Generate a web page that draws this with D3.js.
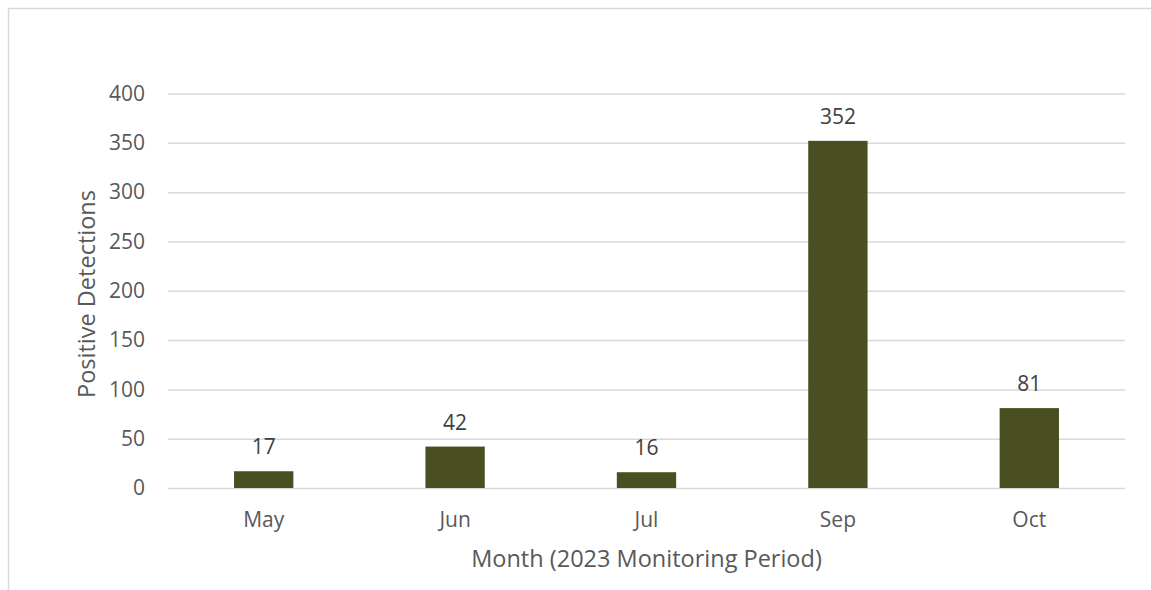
<!DOCTYPE html>
<html>
<head>
<meta charset="utf-8">
<script src="https://cdn.jsdelivr.net/npm/d3@7"></script>
<style>
  html, body { margin: 0; padding: 0; background: #fff; }
  svg { display: block; }
  svg text { font-family: "Open Sans", "Noto Sans", sans-serif; }
</style>
</head>
<body>
<svg id="chart" width="1151" height="590"></svg>
<script>
// Monthly positive detections, 2023 monitoring period
const months = ["May", "Jun", "Jul", "Sep", "Oct"];
const detections = [17, 42, 16, 352, 81];
const yTicks = [0, 50, 100, 150, 200, 250, 300, 350, 400];

const svg = d3.select("#chart");
const W = 1151, H = 590;
const FONT = '"Open Sans", "Noto Sans", sans-serif';

// chart frame (partly outside the viewport on the right and bottom)
svg.append("rect")
  .attr("x", 8.5).attr("y", 8.5)
  .attr("width", W + 20).attr("height", H + 20)
  .attr("fill", "#fff")
  .attr("stroke", "#d9d9d9")
  .attr("stroke-width", 1.5);

const plot = { left: 168, right: 1125, top: 93.5, bottom: 488 };

const x = d3.scaleBand()
  .domain(months)
  .range([plot.left, plot.right])
  .paddingInner(0.69)
  .paddingOuter(0.345);

const y = d3.scaleLinear()
  .domain([0, 400])
  .range([plot.bottom, plot.top]);

// horizontal gridlines + y tick labels
const yAxis = d3.axisLeft(y)
  .tickValues(yTicks)
  .tickSize(-(plot.right - plot.left))
  .tickPadding(23);

const gy = svg.append("g")
  .attr("transform", `translate(${plot.left},0)`)
  .call(yAxis)
  .attr("font-family", FONT);
gy.select(".domain").remove();
gy.selectAll(".tick line")
  .attr("stroke", "#d9d9d9")
  .attr("stroke-width", 1.5);
gy.selectAll(".tick text")
  .attr("fill", "#595959")
  .style("font-size", "21px");

// bars
svg.append("g").selectAll("rect")
  .data(months.map((m, i) => ({ m, v: detections[i] })))
  .join("rect")
  .attr("x", d => x(d.m))
  .attr("y", d => y(d.v))
  .attr("width", x.bandwidth())
  .attr("height", d => y(0) - y(d.v))
  .attr("fill", "#4a4f22");

// value labels above bars
svg.append("g").selectAll("text")
  .data(months.map((m, i) => ({ m, v: detections[i] })))
  .join("text")
  .attr("x", d => x(d.m) + x.bandwidth() / 2)
  .attr("y", d => y(d.v) - 17)
  .attr("text-anchor", "middle")
  .attr("fill", "#404040")
  .style("font-size", "21px")
  .text(d => d.v);

// category axis labels
const xAxis = d3.axisBottom(x).tickSize(0).tickPadding(24);
const gx = svg.append("g")
  .attr("transform", `translate(0,${plot.bottom})`)
  .call(xAxis)
  .attr("font-family", FONT);
gx.select(".domain").remove();
gx.selectAll(".tick text")
  .attr("fill", "#595959")
  .style("font-size", "21px");

// axis titles
svg.append("text")
  .attr("x", (plot.left + plot.right) / 2)
  .attr("y", 567)
  .attr("text-anchor", "middle")
  .attr("fill", "#595959")
  .style("font-size", "23.5px")
  .text("Month (2023 Monitoring Period)");

svg.append("text")
  .attr("transform", `translate(95,294) rotate(-90)`)
  .attr("text-anchor", "middle")
  .attr("fill", "#595959")
  .style("font-size", "23.5px")
  .text("Positive Detections");
</script>
</body>
</html>
